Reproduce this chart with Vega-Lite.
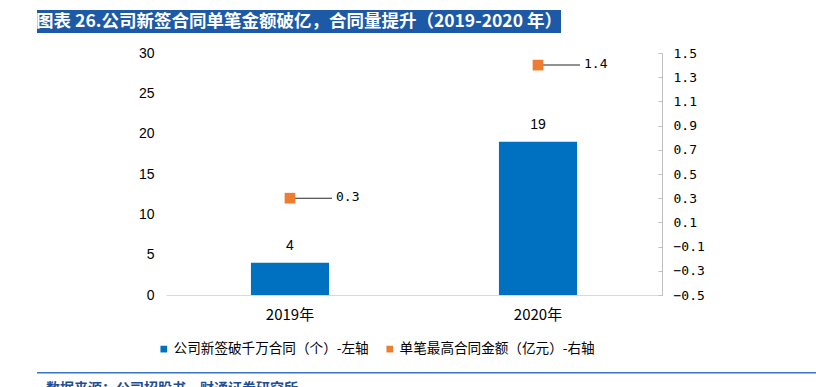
{
  "$schema": "https://vega.github.io/schema/vega-lite/v6.json",
  "background": "white",
  "padding": {"left": 36, "top": 10, "right": 0, "bottom": 0},
  "spacing": 13,
  "config": {
    "view": {"stroke": null},
    "font": "Noto Sans CJK SC",
    "axisRight": {"labelOverlap": false, "labelBound": false},
    "legend": {
      "labelFont": "Noto Sans CJK SC",
      "labelFontSize": 13.6,
      "labelColor": "#000000",
      "labelLimit": 400,
      "symbolSize": 45,
      "symbolType": "square",
      "labelOffset": 3,
      "columnPadding": 14,
      "padding": 0
    }
  },
  "vconcat": [
    {
      "width": 524,
      "height": 23,
      "view": {"fill": "#1C5AA8", "stroke": null},
      "data": {"values": [{"t": "图表 26.公司新签合同单笔金额破亿，合同量提升（2019-2020 年）"}]},
      "mark": {"type": "text", "color": "white", "fontSize": 17.5, "fontWeight": "bold", "font": "Noto Sans CJK SC"},
      "encoding": {"text": {"field": "t"}}
    },
    {
      "spacing": 0,
      "hconcat": [
        {
          "width": 101,
          "height": 306,
          "data": {"values": []},
          "mark": "point",
          "encoding": {}
        },
        {
          "width": 496,
          "height": 242,
          "data": {"values": [
            {"year": "2019年", "count": 4, "amount": 0.3},
            {"year": "2020年", "count": 19, "amount": 1.4}
          ]},
          "encoding": {
            "x": {
              "field": "year",
              "type": "nominal",
              "sort": null,
              "scale": {"paddingInner": 0.685, "paddingOuter": 0.3425},
              "axis": {
                "title": null,
                "labelAngle": 0,
                "ticks": false,
                "domainColor": "#D9D9D9",
                "domainWidth": 1,
                "labelFont": "Noto Sans CJK SC",
                "labelFontSize": 15,
                "labelColor": "#000000",
                "labelPadding": 12
              }
            },
            "color": {
              "type": "nominal",
              "scale": {
                "domain": ["公司新签破千万合同（个）-左轴", "单笔最高合同金额（亿元）-右轴"],
                "range": ["#0070C0", "#ED7D31"]
              },
              "legend": {
                "orient": "none",
                "legendX": 120,
                "legendY": 332,
                "direction": "horizontal",
                "title": null,
                "symbolType": "square",
                "symbolSize": 45,
                "symbolStrokeWidth": 0,
                "labelFont": "Noto Sans CJK SC",
                "labelFontSize": 13.6,
                "labelColor": "#000000",
                "labelOffset": 3,
                "columnPadding": 14,
                "padding": 0,
                "labelLimit": 400
              }
            }
          },
          "layer": [
            {
              "encoding": {
                "y": {
                  "field": "count",
                  "type": "quantitative",
                  "scale": {"domain": [0, 30]},
                  "axis": {
                    "title": null,
                    "orient": "left",
                    "values": [0, 5, 10, 15, 20, 25, 30],
                    "grid": false,
                    "domain": false,
                    "ticks": false,
                    "labelFont": "Liberation Sans",
                    "labelFontSize": 14,
                    "labelColor": "#000000",
                    "labelPadding": 12
                  }
                }
              },
              "layer": [
                {
                  "mark": {"type": "bar", "color": "#0070C0"},
                  "encoding": {
                    "color": {"datum": "公司新签破千万合同（个）-左轴", "type": "nominal"}
                  }
                },
                {
                  "mark": {"type": "text", "dy": -17, "font": "Liberation Sans", "fontSize": 14, "color": "#000000"},
                  "encoding": {
                    "text": {"field": "count", "type": "quantitative"}
                  }
                }
              ]
            },
            {
              "encoding": {
                "y": {
                  "field": "amount",
                  "type": "quantitative",
                  "scale": {"domain": [-0.5, 1.5]},
                  "axis": {
                    "title": null,
                    "orient": "right",
                    "values": [-0.5, -0.3, -0.1, 0.1, 0.3, 0.5, 0.7, 0.9, 1.1, 1.3, 1.5],
                    "format": ".1f",
                    "labelOverlap": false,
                    "labelBound": false,
                    "grid": false,
                    "domainColor": "#BFBFBF",
                    "tickColor": "#BFBFBF",
                    "tickSize": -4,
                    "labelFont": "DejaVu Sans Mono",
                    "labelFontSize": 13,
                    "labelColor": "#000000",
                    "labelPadding": 15
                  }
                }
              },
              "layer": [
                {
                  "mark": {"type": "tick", "size": 42, "thickness": 1, "xOffset": 21, "color": "#262626", "opacity": 1}
                },
                {
                  "mark": {"type": "point", "shape": "square", "filled": true, "size": 115, "opacity": 1},
                  "encoding": {
                    "color": {"datum": "单笔最高合同金额（亿元）-右轴", "type": "nominal"}
                  }
                },
                {
                  "mark": {"type": "text", "align": "left", "dx": 46, "dy": -1, "font": "DejaVu Sans Mono", "fontSize": 13, "color": "#000000"},
                  "encoding": {
                    "text": {"field": "amount", "type": "quantitative", "format": ".1f"}
                  }
                }
              ]
            }
          ],
          "resolve": {"scale": {"y": "independent"}}
        }
      ]
    },
    {
      "width": 780,
      "height": 1.5,
      "view": {"fill": "#3A75C4", "stroke": null},
      "data": {"values": []},
      "mark": "point",
      "encoding": {},
      "title": {
        "text": "数据来源：公司招股书，财通证券研究所",
        "orient": "bottom",
        "anchor": "start",
        "frame": "group",
        "offset": 8,
        "dx": 9,
        "font": "Noto Sans CJK SC",
        "fontSize": 14,
        "fontWeight": "bold",
        "color": "#1F4E99"
      }
    }
  ]
}
